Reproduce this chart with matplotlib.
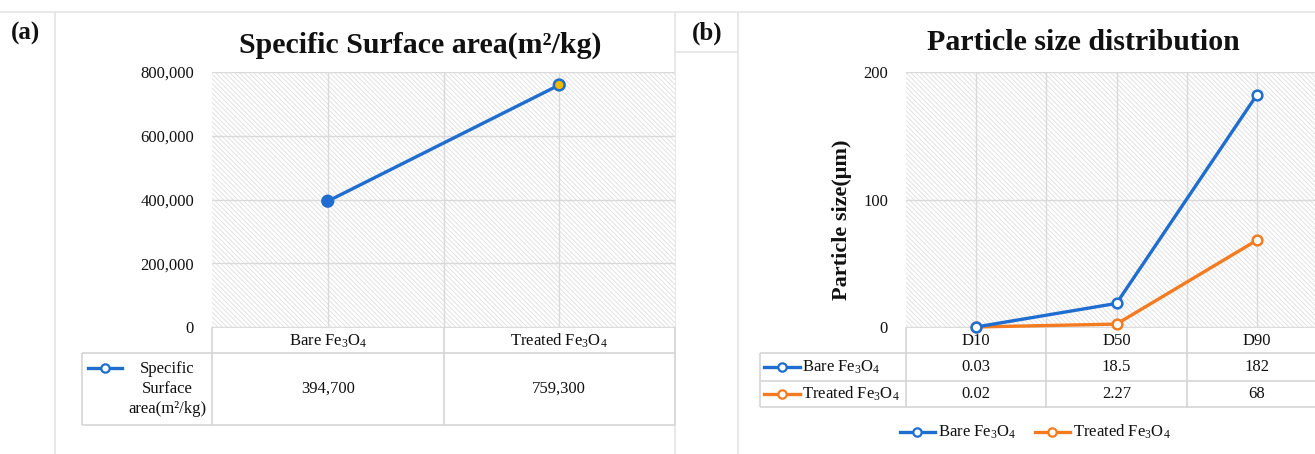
import matplotlib
matplotlib.use("Agg")
import matplotlib.pyplot as plt
import matplotlib.transforms as mtransforms
from matplotlib.patches import Rectangle
from matplotlib.ticker import FuncFormatter

# データ
ssa_categories = ['Bare Fe$_3$O$_4$', 'Treated Fe$_3$O$_4$']
ssa_values = [394700, 759300]
ssa_label = 'Specific\nSurface\narea(m²/kg)'

psd_categories = ['D10', 'D50', 'D90']
psd_bare = [0.03, 18.5, 182]
psd_treated = [0.02, 2.27, 68]
psd_series = ['Bare Fe$_3$O$_4$', 'Treated Fe$_3$O$_4$']
psd_labels = [['0.03', '18.5', '182'], ['0.02', '2.27', '68']]

BLUE = '#1F6ECF'
ORANGE = '#F47B20'
GOLD = '#F5B800'
GRID = '#dadada'
LINE = '#d6d6d6'
FS = 12

plt.rcParams['font.family'] = ['Liberation Serif', 'DejaVu Serif']
plt.rcParams['mathtext.fontset'] = 'custom'
plt.rcParams['mathtext.rm'] = 'Liberation Serif'
plt.rcParams['mathtext.it'] = 'Liberation Serif:italic'
plt.rcParams['mathtext.bf'] = 'Liberation Serif:bold'
plt.rcParams['hatch.linewidth'] = 0.6
plt.rcParams['text.color'] = '#111111'
plt.rcParams['ytick.color'] = '#111111'

W, H = 1315, 454
fig = plt.figure(figsize=(W / 100, H / 100), dpi=100)

# 全体の枠(ピクセル座標)
ov = fig.add_axes([0, 0, 1, 1])
ov.set_xlim(0, W)
ov.set_ylim(H, 0)
ov.axis('off')


def px_axes(x0, y0, x1, y1):
    return fig.add_axes([x0 / W, 1 - y1 / H, (x1 - x0) / W, (y1 - y0) / H])


def hline(y, x0, x1, c=LINE):
    ov.plot([x0, x1], [y, y], color=c, lw=1.2, solid_capstyle='butt')


def vline(x, y0, y1, c=LINE):
    ov.plot([x, x], [y0, y1], color=c, lw=1.2, solid_capstyle='butt')


hline(12, 0, W, '#e4e4e4')
vline(55, 12, H, '#e4e4e4')
vline(675, 12, H, '#e4e4e4')
vline(738, 12, H, '#e4e4e4')
hline(52, 675, 738, '#e4e4e4')

ov.text(26, 33, '(a)', fontsize=18, fontweight='bold', ha='center', va='center')
ov.text(707, 33, '(b)', fontsize=18, fontweight='bold', ha='center', va='center')


def style_plot(ax, n):
    ax.set_xlim(-0.5, n - 0.5)
    ax.set_facecolor('white')
    ax.add_patch(Rectangle((0, 0), 1, 1, transform=ax.transAxes, facecolor='white',
                           edgecolor='#dedede', lw=0, hatch='\\' * 7, zorder=0))
    for s in ax.spines.values():
        s.set_visible(False)
    ax.set_xticks(range(n))
    ax.set_xticks([i + 0.5 for i in range(n - 1)], minor=True)
    ax.tick_params(axis='x', which='both', length=0, labelbottom=False)
    ax.tick_params(axis='y', length=0, pad=13, labelsize=FS)
    ax.grid(True, which='both', color=GRID, lw=1, zorder=1)
    ax.set_axisbelow(True)


# (a) 比表面積
axa = px_axes(212, 72, 675, 327)
style_plot(axa, len(ssa_values))
axa.set_ylim(0, 800000)
axa.set_yticks(range(0, 800001, 200000))
axa.yaxis.set_major_formatter(FuncFormatter(lambda v, p: f'{int(v):,}'))
axa.plot(range(len(ssa_values)), ssa_values, color=BLUE, lw=2.4, zorder=3)
axa.scatter(range(len(ssa_values)), ssa_values, s=60, facecolors=[BLUE, GOLD],
            edgecolors=BLUE, linewidths=1.8, zorder=4, clip_on=False)
ov.text(420, 45, 'Specific Surface area(m²/kg)', fontsize=21.5, fontweight='bold',
        ha='center', va='center')

ta = mtransforms.blended_transform_factory(axa.transData, ov.transData)
hline(327, 212, 675)
hline(353, 82, 675)
hline(425, 82, 675)
vline(212, 327, 425)
vline(444, 327, 425)
vline(675, 327, 425)
vline(82, 353, 425)
for i, cat in enumerate(ssa_categories):
    ov.text(i, 341, cat, transform=ta, ha='center', va='center', fontsize=FS)
    ov.text(i, 389, f'{ssa_values[i]:,}', transform=ta, ha='center', va='center', fontsize=FS)
ov.plot([88, 122], [368, 368], color=BLUE, lw=2.4)
ov.plot([105], [368], 'o', ms=6, mfc='white', mec=BLUE, mew=1.6)
ov.text(167, 389, ssa_label, ha='center', va='center', multialignment='center',
        fontsize=FS, linespacing=1.3)

# (b) 粒度分布
axb = px_axes(906, 72, 1327, 327)
style_plot(axb, len(psd_categories))
axb.set_ylim(0, 200)
axb.set_yticks([0, 100, 200])
xs = range(len(psd_categories))
axb.plot(xs, psd_bare, color=BLUE, lw=2.4, marker='o', ms=7, mfc='white', mec=BLUE,
         mew=1.8, zorder=4, clip_on=False)
axb.plot(xs, psd_treated, color=ORANGE, lw=2.4, marker='o', ms=7, mfc='white', mec=ORANGE,
         mew=1.8, zorder=3, clip_on=False)
ov.text(842, 220, 'Particle size(μm)', fontsize=16, fontweight='bold',
        rotation=90, ha='center', va='center')
ov.text(1083, 42, 'Particle size distribution', fontsize=21.5,
        fontweight='bold', ha='center', va='center')

tb = mtransforms.blended_transform_factory(axb.transData, ov.transData)
hline(327, 906, W)
hline(353, 760, W)
hline(381, 760, W)
hline(407, 760, W)
vline(760, 353, 407)
vline(906, 327, 407)
for i in range(1, len(psd_categories)):
    ov.plot([i - 0.5, i - 0.5], [327, 407], color=LINE, lw=1.2, transform=tb)
for i, cat in enumerate(psd_categories):
    ov.text(i, 341, cat, transform=tb, ha='center', va='center', fontsize=FS)
    for r, yy in enumerate([367, 394]):
        ov.text(i, yy, psd_labels[r][i], transform=tb, ha='center', va='center', fontsize=FS)
for r, (name, c, yy) in enumerate(zip(psd_series, [BLUE, ORANGE], [367, 394])):
    ov.plot([764, 800], [yy, yy], color=c, lw=2.4)
    ov.plot([782], [yy], 'o', ms=6, mfc='white', mec=c, mew=1.6)
    ov.text(802, yy, name, ha='left', va='center', fontsize=FS)

# 下の凡例
for name, c, x0 in zip(psd_series, [BLUE, ORANGE], [900, 1035]):
    ov.plot([x0, x0 + 35], [432, 432], color=c, lw=2.4)
    ov.plot([x0 + 17.5], [432], 'o', ms=6, mfc='white', mec=c, mew=1.6)
    ov.text(x0 + 38, 432, name, ha='left', va='center', fontsize=FS)

fig.savefig('out.png', dpi=100)
